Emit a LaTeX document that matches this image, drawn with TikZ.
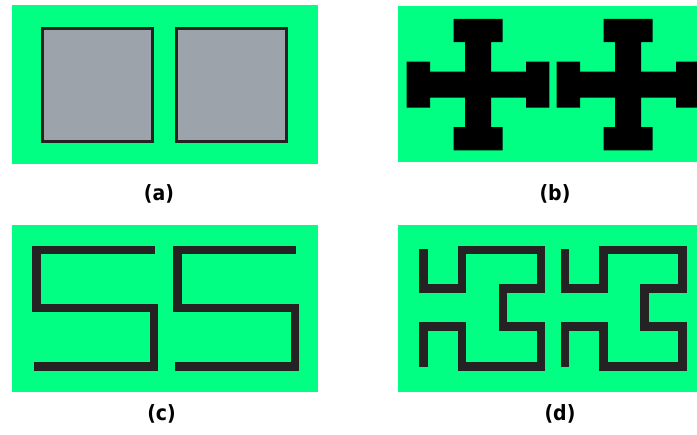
\documentclass[tikz,border=0pt]{standalone}
\usepackage{fontspec}
\setmainfont{DejaVu Sans Condensed}
\definecolor{panelgreen}{HTML}{00FF82}
\definecolor{slabgray}{HTML}{9CA3AA}
\definecolor{inkdark}{HTML}{242223}
\tikzset{
  panel/.style={fill=panelgreen, draw=none},
  slab/.style={fill=slabgray, draw=inkdark, line width=3},
  track/.style={draw=inkdark, line width=8.5, line cap=butt, line join=miter},
  caption/.style={font=\fontsize{21}{24}\selectfont\bfseries, inner sep=0pt, text=black},
}
\begin{document}
\begin{tikzpicture}[x=1pt, y=-1pt]
  \useasboundingbox (0,0) rectangle (697,435);
  \clip (0,0) rectangle (697,435);

  % green backgrounds of the four panels
  \fill[panel] (12,5) rectangle (318,164);
  \fill[panel] (398,5.7) rectangle (697,162.3);
  \fill[panel] (11.7,225) rectangle (318,391.7);
  \fill[panel] (398,225) rectangle (697,391.7);

  % (a) two square patches
  \draw[slab] (42.2,28.8) rectangle (152.5,141.2);
  \draw[slab] (176.5,28.8) rectangle (286.5,141.2);

  % (b) two cross-shaped patches
  \foreach \cx in {478,628} {
    \fill[black, shift={(\cx,84.7)}]
      (-24.5,-65.7) -- (24.5,-65.7) -- (24.5,-42.5) -- (13,-42.5) -- (13,-13)
      -- (48,-13) -- (48,-23) -- (71.3,-23) -- (71.3,23) -- (48,23) -- (48,13)
      -- (13,13) -- (13,42.5) -- (24.5,42.5) -- (24.5,65.7) -- (-24.5,65.7)
      -- (-24.5,42.5) -- (-13,42.5) -- (-13,13) -- (-48,13) -- (-48,23)
      -- (-71.3,23) -- (-71.3,-23) -- (-48,-23) -- (-48,-13) -- (-13,-13)
      -- (-13,-42.5) -- (-24.5,-42.5) -- cycle;
  }

  % (c) two S-shaped strips
  \foreach \dx in {0,141} {
    \draw[track, shift={(\dx,0)}]
      (154.5,250) -- (36.3,250) -- (36.3,308) -- (154,308) -- (154,366.5) -- (34.3,366.5);
  }

  % (d) two meander strips
  \foreach \dx in {0,141.5} {
    \draw[track, shift={(\dx,0)}]
      (423.3,249.3) -- (423.3,288.3) -- (462,288.3) -- (462,250) -- (541.2,250)
      -- (541.2,288.3) -- (502.8,288.3) -- (502.8,326.5) -- (541.2,326.5)
      -- (541.2,366.5) -- (462,366.5) -- (462,326.5) -- (423.3,326.5) -- (423.3,367.3);
  }

  % captions
  \node[caption] (capa) at (159,194) {(a)};
  \node[caption] (capb) at (555,194) {(b)};
  \node[caption] (capc) at (161.5,414) {(c)};
  \node[caption] (capd) at (560,414) {(d)};
\end{tikzpicture}
\end{document}
